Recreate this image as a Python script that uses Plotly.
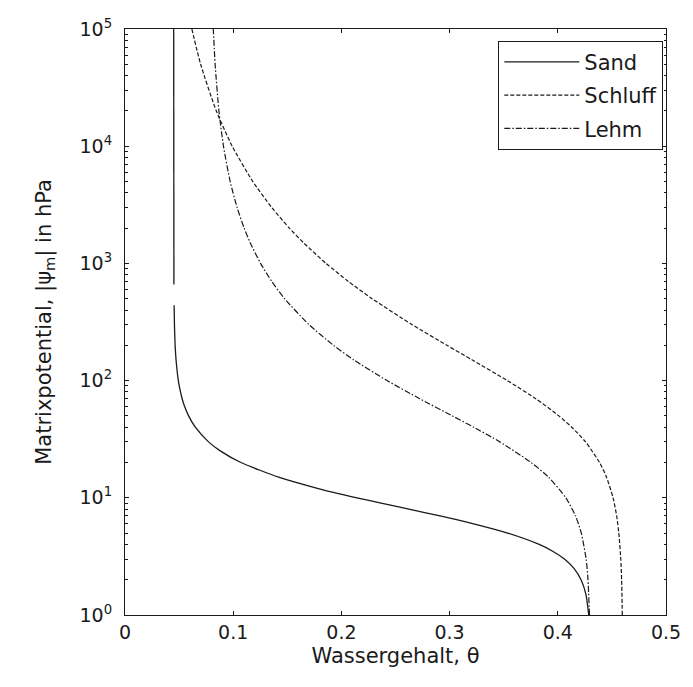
import plotly.graph_objects as go

# Water content (theta) vs. matric potential |psi_m| in hPa
psi_sand = [1, 1.5, 2, 2.5, 3, 3.5, 4, 5, 6, 7, 8, 9, 10, 12, 15, 20, 25, 30, 40, 50,
            60, 70, 80, 100, 150, 200, 300, 440, None, 660, 100000]
theta_sand = [0.4286, 0.4260, 0.4215, 0.4149, 0.4061, 0.3953, 0.3828, 0.3537, 0.3222,
              0.2912, 0.2624, 0.2367, 0.2143, 0.1786, 0.1420, 0.1071, 0.0884, 0.0772,
              0.0650, 0.0588, 0.0551, 0.0528, 0.0513, 0.0493, 0.0472, 0.0463, 0.0457,
              0.0454, None, 0.0452, 0.0450]

psi_common = [1, 2, 3, 5, 7, 10, 15, 20, 30, 40, 50, 70, 100, 150, 200, 300, 500, 700,
              1000, 1500, 2000, 3000, 5000, 10000, 20000, 50000, 100000]
theta_schluff = [0.4596, 0.4590, 0.4582, 0.4564, 0.4544, 0.4511, 0.4450, 0.4386, 0.4256,
                 0.4129, 0.4010, 0.3797, 0.3534, 0.3210, 0.2975, 0.2654, 0.2284, 0.2066,
                 0.1858, 0.1650, 0.1519, 0.1356, 0.1181, 0.0991, 0.0844, 0.0699, 0.0618]
theta_lehm = [0.4293, 0.4279, 0.4262, 0.4217, 0.4164, 0.4074, 0.3914, 0.3754, 0.3464,
              0.3223, 0.3025, 0.2724, 0.2422, 0.2115, 0.1927, 0.1701, 0.1475, 0.1357,
              0.1253, 0.1157, 0.1101, 0.1036, 0.0972, 0.0910, 0.0868, 0.0833, 0.0816]

x_ticks = [0, 0.1, 0.2, 0.3, 0.4, 0.5]
x_tick_labels = ["0", "0.1", "0.2", "0.3", "0.4", "0.5"]
y_ticks = [1, 10, 100, 1000, 10000, 100000]
y_tick_labels = ["10<sup>0</sup>", "10<sup>1</sup>", "10<sup>2</sup>",
                 "10<sup>3</sup>", "10<sup>4</sup>", "10<sup>5</sup>"]

FONT = "DejaVu Sans, Liberation Sans, Arial, sans-serif"
INK = "#1a1a1a"

fig = go.Figure()
fig.add_trace(go.Scatter(x=theta_sand, y=psi_sand, mode="lines", name="Sand",
                         legendgroup="a",
                         line=dict(color=INK, width=1.3, shape="spline", smoothing=0.6),
                         connectgaps=False))
fig.add_trace(go.Scatter(x=theta_schluff, y=psi_common, mode="lines", name="Schluff",
                         legendgroup="b",
                         line=dict(color=INK, width=1.2, dash="4px,2px", shape="spline",
                                   smoothing=0.6)))
fig.add_trace(go.Scatter(x=theta_lehm, y=psi_common, mode="lines", name="Lehm",
                         legendgroup="c",
                         line=dict(color=INK, width=1.2, dash="6px,2px,1.5px,2px",
                                   shape="spline", smoothing=0.6)))

fig.update_layout(
    width=693, height=687,
    margin=dict(l=125, r=18, t=29, b=72),
    paper_bgcolor="white", plot_bgcolor="white",
    font=dict(family=FONT, size=19, color=INK),
    showlegend=True,
    legend=dict(x=0.995, y=0.98, xanchor="right", yanchor="top",
                bordercolor=INK, borderwidth=1, bgcolor="white",
                font=dict(family=FONT, size=21, color=INK),
                itemwidth=75, tracegroupgap=3),
)
fig.update_xaxes(range=[0, 0.5], tickvals=x_ticks, ticktext=x_tick_labels,
                 tickfont=dict(size=19),
                 ticks="inside", ticklen=4, tickcolor=INK, showline=True,
                 linecolor=INK, linewidth=1, mirror="allticks", showgrid=False,
                 zeroline=False,
                 title=dict(text="Wassergehalt, θ", font=dict(size=21), standoff=6))
fig.update_yaxes(type="log", range=[0, 5], tickvals=y_ticks, ticktext=y_tick_labels,
                 tickfont=dict(size=19), ticklabelstandoff=8,
                 ticks="inside", ticklen=4, tickcolor=INK, showline=True,
                 linecolor=INK, linewidth=1, mirror="allticks", showgrid=False,
                 minor=dict(dtick="D1", ticks="inside", ticklen=2.5, tickcolor=INK,
                            showgrid=False),
                 title=dict(text="Matrixpotential, |ψ<sub>m</sub>| in hPa",
                            font=dict(size=21), standoff=22))

fig.write_html("out.html")
